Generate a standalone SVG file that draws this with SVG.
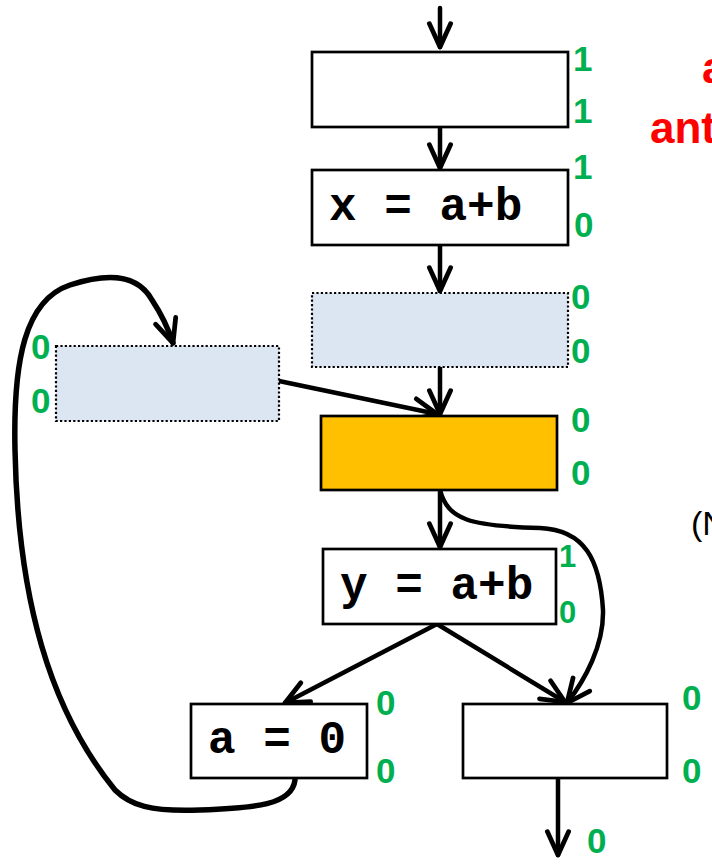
<svg xmlns="http://www.w3.org/2000/svg" width="712" height="865" viewBox="0 0 712 865">
<style>
.box{fill:#ffffff;stroke:#000;stroke-width:2.7}
.dot{fill:#dce6f2;stroke:#000;stroke-width:2.2;stroke-dasharray:2.2 2.2}
.org{fill:#ffc000;stroke:#000;stroke-width:2.7}
.code{font-family:"Liberation Mono","Courier New",monospace;font-weight:bold;font-size:46px;fill:#000}
.g{font-family:"Liberation Sans",Arial,sans-serif;font-weight:bold;font-size:35px;fill:#00b050}
.gs{font-size:31px}
.red{font-family:"Liberation Sans",Arial,sans-serif;font-weight:bold;font-size:44px;fill:#ff0000}
.blk{font-family:"Liberation Sans",Arial,sans-serif;font-size:34px;fill:#000}
.e{fill:none;stroke:#000;stroke-width:4.5;stroke-linecap:round}
.loop{fill:none;stroke:#000;stroke-width:5.5;stroke-linecap:round}
</style>
<defs>
<marker id="ah" markerUnits="userSpaceOnUse" markerWidth="34" markerHeight="34" viewBox="-28 -15 32 30" refX="0" refY="0" orient="auto">
<path d="M-22,-10 L0,0 L-22,10" fill="none" stroke="#000" stroke-width="4.5" stroke-linecap="round" stroke-linejoin="round"/>
</marker>
</defs>
<g id="connectors">
<path class="e" d="M440,8 L440,47" marker-end="url(#ah)"/>
<path class="e" d="M440,127 L440,168" marker-end="url(#ah)"/>
<path class="e" d="M440,245 L440,291" marker-end="url(#ah)"/>
<path class="e" d="M440,367 L440,414" marker-end="url(#ah)"/>
<path class="e" d="M279,381 L437,414" marker-end="url(#ah)"/>
<path class="e" d="M440,490 L440,547" marker-end="url(#ah)"/>
<path class="e" d="M437,624 L285,703" marker-end="url(#ah)"/>
<path class="e" d="M437,624 L565,702" marker-end="url(#ah)"/>
<path class="e" d="M440,490 C448,520 470,526 540,528 C585,530 600,560 603,610 C604,645 585,680 567,703" marker-end="url(#ah)"/>
<path class="e" d="M558,778 L558,855" marker-end="url(#ah)"/>
<path class="loop" d="M295,780 C292,805 255,808 200,810 C150,812 130,805 115,790 C50,710 18,600 15,450 C13,360 25,300 70,285 C110,272 138,275 152,300 C160,312 168,328 173,343" marker-end="url(#ah)"/>
</g>
<g id="n1"><rect class="box" x="312" y="52" width="256" height="75"/></g>
<g id="n2"><rect class="box" x="312" y="170" width="256" height="75"/><text class="code" x="329" y="220">x = a+b</text></g>
<g id="n3"><rect class="dot" x="312" y="293" width="256" height="74"/></g>
<g id="n4"><rect class="dot" x="56" y="346" width="223" height="75"/></g>
<g id="n5"><rect class="org" x="321" y="416" width="236" height="74"/></g>
<g id="n6"><rect class="box" x="323" y="549" width="233" height="75"/><text class="code" x="340" y="599">y = a+b</text></g>
<g id="n7"><rect class="box" x="191" y="704" width="176" height="74"/><text class="code" x="208" y="753">a = 0</text></g>
<g id="n8"><rect class="box" x="463" y="704" width="204" height="74"/></g>
<g id="labels">
<text class="g" x="573" y="71">1</text>
<text class="g" x="573" y="123">1</text>
<text class="g" x="573" y="179">1</text>
<text class="g" x="574" y="237">0</text>
<text class="g" x="571" y="309">0</text>
<text class="g" x="571" y="363">0</text>
<text class="g" x="571" y="432">0</text>
<text class="g" x="571" y="485">0</text>
<text class="g gs" x="559" y="567">1</text>
<text class="g gs" x="559" y="623">0</text>
<text class="g" x="31" y="359">0</text>
<text class="g" x="31" y="413">0</text>
<text class="g" x="376" y="715">0</text>
<text class="g" x="376" y="783">0</text>
<text class="g" x="682" y="710">0</text>
<text class="g" x="682" y="783">0</text>
<text class="g" x="587" y="853">0</text>
<text class="red" x="702" y="83">a</text>
<text class="red" x="650" y="143">ant</text>
<text class="blk" x="691" y="535">(N</text>
</g>
</svg>
